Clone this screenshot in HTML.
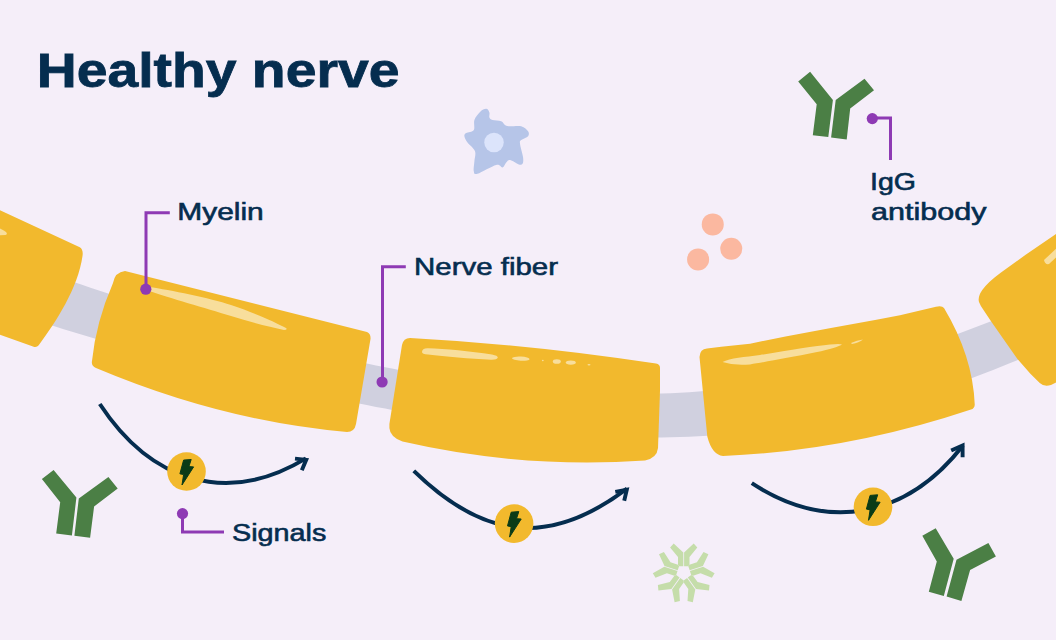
<!DOCTYPE html>
<html><head><meta charset="utf-8"><style>html,body{margin:0;padding:0;background:#F5EEF9;}svg{display:block;}</style></head>
<body><svg width="1056" height="640" viewBox="0 0 1056 640">
<rect width="1056" height="640" fill="#F5EEF9"/>
<path d="M-20.0,246.9 L-10.8,250.7 L-1.6,254.3 L7.6,257.9 L16.8,261.4 L26.1,264.9 L35.3,268.3 L44.5,271.7 L53.7,275.0 L62.9,278.2 L72.1,281.4 L81.3,284.6 L90.5,287.7 L99.7,290.8 L108.9,293.8 L118.2,296.8 L127.4,299.7 L136.6,302.6 L145.8,305.5 L155.0,308.3 L164.2,311.1 L173.4,313.9 L182.6,316.6 L191.8,319.3 L201.0,322.0 L210.3,324.6 L219.5,327.2 L228.7,329.7 L237.9,332.3 L247.1,334.7 L256.3,337.2 L265.5,339.6 L274.7,342.0 L283.9,344.3 L293.1,346.6 L302.4,348.9 L311.6,351.1 L320.8,353.3 L330.0,355.4 L339.2,357.5 L348.4,359.5 L357.6,361.5 L366.8,363.5 L376.0,365.4 L385.2,367.3 L394.5,369.1 L403.7,370.9 L412.9,372.6 L422.1,374.2 L431.3,375.8 L440.5,377.4 L449.7,378.9 L458.9,380.3 L468.1,381.6 L477.3,383.0 L486.6,384.2 L495.8,385.4 L505.0,386.5 L514.2,387.5 L523.4,388.5 L532.6,389.4 L541.8,390.2 L551.0,390.9 L560.2,391.6 L569.4,392.2 L578.7,392.7 L587.9,393.1 L597.1,393.5 L606.3,393.8 L615.5,393.9 L624.7,394.0 L633.9,394.0 L643.1,394.0 L652.3,393.8 L661.5,393.5 L670.8,393.2 L680.0,392.7 L689.2,392.2 L698.4,391.6 L707.6,390.8 L716.8,390.0 L726.0,389.1 L735.2,388.1 L744.4,386.9 L753.6,385.7 L762.9,384.4 L772.1,383.0 L781.3,381.5 L790.5,379.9 L799.7,378.2 L808.9,376.3 L818.1,374.4 L827.3,372.4 L836.5,370.3 L845.7,368.1 L855.0,365.8 L864.2,363.4 L873.4,360.9 L882.6,358.3 L891.8,355.7 L901.0,352.9 L910.2,350.0 L919.4,347.1 L928.6,344.0 L937.8,340.9 L947.1,337.7 L956.3,334.4 L965.5,331.1 L974.7,327.6 L983.9,324.1 L993.1,320.5 L1002.3,316.9 L1011.5,313.1 L1020.7,309.4 L1029.9,305.5 L1039.2,301.6 L1048.4,297.7 L1057.6,293.7 L1066.8,289.7 L1076.0,285.6 L1076.0,334.7 L1066.8,338.8 L1057.6,343.0 L1048.4,347.0 L1039.2,351.0 L1029.9,355.0 L1020.7,358.8 L1011.5,362.6 L1002.3,366.3 L993.1,370.0 L983.9,373.5 L974.7,377.0 L965.5,380.4 L956.3,383.7 L947.1,386.9 L937.8,390.1 L928.6,393.1 L919.4,396.0 L910.2,398.9 L901.0,401.6 L891.8,404.2 L882.6,406.8 L873.4,409.2 L864.2,411.6 L855.0,413.8 L845.7,415.9 L836.5,418.0 L827.3,419.9 L818.1,421.7 L808.9,423.4 L799.7,425.1 L790.5,426.6 L781.3,428.0 L772.1,429.3 L762.9,430.5 L753.6,431.6 L744.4,432.7 L735.2,433.6 L726.0,434.4 L716.8,435.1 L707.6,435.7 L698.4,436.3 L689.2,436.7 L680.0,437.0 L670.8,437.3 L661.5,437.4 L652.3,437.5 L643.1,437.5 L633.9,437.4 L624.7,437.2 L615.5,436.9 L606.3,436.6 L597.1,436.2 L587.9,435.7 L578.7,435.1 L569.4,434.4 L560.2,433.7 L551.0,432.9 L541.8,432.0 L532.6,431.1 L523.4,430.1 L514.2,429.1 L505.0,427.9 L495.8,426.8 L486.6,425.5 L477.3,424.2 L468.1,422.9 L458.9,421.5 L449.7,420.0 L440.5,418.6 L431.3,417.0 L422.1,415.4 L412.9,413.8 L403.7,412.1 L394.5,410.4 L385.2,408.6 L376.0,406.9 L366.8,405.0 L357.6,403.2 L348.4,401.3 L339.2,399.3 L330.0,397.4 L320.8,395.4 L311.6,393.4 L302.4,391.3 L293.1,389.3 L283.9,387.2 L274.7,385.0 L265.5,382.9 L256.3,380.7 L247.1,378.5 L237.9,376.3 L228.7,374.0 L219.5,371.8 L210.3,369.5 L201.0,367.1 L191.8,364.8 L182.6,362.4 L173.4,360.0 L164.2,357.6 L155.0,355.2 L145.8,352.7 L136.6,350.2 L127.4,347.7 L118.2,345.1 L108.9,342.5 L99.7,339.9 L90.5,337.2 L81.3,334.5 L72.1,331.8 L62.9,329.0 L53.7,326.1 L44.5,323.3 L35.3,320.3 L26.1,317.4 L16.8,314.3 L7.6,311.2 L-1.6,308.1 L-10.8,304.8 L-20.0,301.5Z" fill="#D0D0DF"/>
<path d="M-5,208 L79.8,247.2 Q83.5,249.5 82.5,256 C78,288 56,322 38.7,345.2 Q36.5,348 33,346.5 L-5,333 Z" fill="#F2B92D"/>
<path d="M113,283 Q115,272 125,271 L367,332 Q371,334 370.5,339 L356,424 Q354.5,432 347,432 Q221.7,421 96,368 Q91,366 92,361 Q96,322 113,283 Z" fill="#F2B92D"/>
<path d="M389.4,424 L402,345 Q403.5,338 410,338 Q532.5,344.6 656,363.6 Q660,364.5 660,368 L660,391 L658,448 Q657,458 645,460.5 Q522,469 402.5,441.6 Q390,437 389.4,428 Z" fill="#F2B92D"/>
<path d="M699.5,357 Q700,349 707,348.6 L721.25,346.8 L750,343.7 L785.5,336.4 L830.9,328 L876.4,319.7 L900,315.2 L936,306.8 Q942,305.5 944,308 Q972.8,356 974.75,404.7 Q974.5,408.5 971,409.5 Q847,451 723,456 Q712,455 707.3,436.6 L699.5,357 Z" fill="#F2B92D"/>
<path d="M1061,230.5 L1026,254.4 L1001,272.5 Q988,282 982.25,290 Q977.5,297 979,302 Q980.5,306 983.5,310 L991,321.25 L1004.1,340 L1017.25,358.75 L1030.4,373.75 L1039.75,383.1 Q1044,387 1051,385 L1061,380 Z" fill="#F2B92D"/>
<path d="M-5,226.5 Q2,229 6,232 Q8,234.5 5.5,235 L-5,235.5 Z" fill="#F8DE9C"/>
<path d="M149,287 C170,290 210,298 231,305 C255,313 275,322 286,328 Q288,330 284,330 C270,327 250,322 231,316 C205,308 170,298 149,291 Z" fill="#F8DE9C"/>
<path d="M1044,260 L1058,247 L1061,253 L1049,264 Q1045,265 1044,260 Z" fill="#F8DE9C"/>
<path d="M722.5,362 C730,358 745,357 760,355 C790,350 815,346 830,344.5 Q840,343.5 842,344.5 Q838,347.5 815.8,352.3 C790,357.5 765,362 750,364.4 Q735,366 722.5,362 Z" fill="#F8DE9C"/>
<path d="M422,352 Q422,348 428,348.2 C445,348.8 470,351 492,354.6 Q498,355.8 497.8,357.6 Q497,360 491,359.8 C470,359 445,356.5 428,354.6 Q422,354 422,352 Z" fill="#F8DE9C"/>
<path d="M851,343 Q857,340 863,339.5 Q859,342.5 852,344 Z" fill="#F8DE9C"/>
<ellipse cx="520.8" cy="358.7" rx="8.8" ry="2.1" transform="rotate(3 520.8 358.7)" fill="#F8DE9C"/>
<ellipse cx="556.8" cy="361.5" rx="4" ry="2.3" transform="rotate(0 556.8 361.5)" fill="#F8DE9C"/>
<ellipse cx="570.8" cy="362.6" rx="5" ry="2.1" transform="rotate(0 570.8 362.6)" fill="#F8DE9C"/>
<ellipse cx="542.8" cy="360.5" rx="0.9" ry="0.8" transform="rotate(0 542.8 360.5)" fill="#F8DE9C"/>
<ellipse cx="589" cy="364.7" rx="1.5" ry="0.7" transform="rotate(0 589 364.7)" fill="#F8DE9C"/>
<path d="M798.2,81.4 L810.1,71.7 L832.9,100.1 L828.3,137.1 L812.8,135.2 L816.7,104.3Z" fill="#4B7F45"/><path d="M835.7,100.1 L864.5,78.7 L874.0,90.2 L850.2,108.5 L846.7,139.5 L831.1,137.4Z" fill="#4B7F45"/>
<path d="M41.9,479.0 L53.6,470.0 L76.4,497.6 L71.9,535.4 L56.2,533.4 L60.2,502.2Z" fill="#4B7F45"/><path d="M78.8,498.5 L108.4,476.9 L117.7,488.5 L94.1,506.5 L90.1,537.7 L74.4,535.7Z" fill="#4B7F45"/>
<path d="M922.3,535.8 L935.7,528.2 L953.7,558.7 L943.8,595.9 L928.8,591.7 L936.8,561.5Z" fill="#4B7F45"/><path d="M956.5,559.8 L988.4,542.9 L995.9,556.6 L970.1,569.9 L961.4,600.9 L946.6,596.6Z" fill="#4B7F45"/>
<path d="M486.2,108.8 C487.8,108.8 488.9,111.0 489.4,112.5 C489.9,114.0 488.9,116.2 489.4,117.5 C489.9,118.8 490.5,119.4 492.5,120.0 C494.5,120.6 499.2,120.4 501.2,121.2 C503.3,122.1 503.8,124.2 505.0,125.0 C506.2,125.8 506.0,126.0 508.8,126.2 C511.5,126.5 518.0,125.4 521.2,126.2 C524.5,127.1 527.0,129.6 528.1,131.2 C529.2,132.9 529.2,134.8 528.1,136.2 C527.0,137.7 522.6,138.8 521.2,140.0 C519.9,141.2 519.7,140.8 520.0,143.8 C520.3,146.7 522.7,154.2 523.1,157.5 C523.5,160.8 523.2,162.6 522.5,163.8 C521.8,164.9 520.8,165.0 518.8,164.4 C516.7,163.8 512.1,160.3 510.0,160.0 C507.9,159.7 507.5,161.2 506.2,162.5 C505.0,163.8 504.2,167.1 502.5,167.5 C500.8,167.9 500.4,164.0 496.2,165.0 C492.1,166.0 481.2,172.7 477.5,173.8 C473.8,174.8 474.3,173.3 473.8,171.2 C473.2,169.2 474.2,164.6 474.4,161.2 C474.6,157.9 476.1,154.4 475.0,151.2 C473.9,148.1 469.3,145.0 467.5,142.5 C465.7,140.0 464.6,137.8 464.4,136.2 C464.2,134.7 464.7,134.1 466.2,133.1 C467.8,132.1 472.4,132.2 473.8,130.0 C475.1,127.8 473.4,123.0 474.4,120.0 C475.4,117.0 478.0,113.8 480.0,111.9 C482.0,110.0 484.7,108.7 486.2,108.8Z" fill="#B6C5E8"/><circle cx="494" cy="142.5" r="9.75" fill="#DCE4FB"/>
<circle cx="712.75" cy="224.4" r="11" fill="#FBB8A0"/>
<circle cx="731.25" cy="248.75" r="11" fill="#FBB8A0"/>
<circle cx="698.1" cy="259.4" r="11" fill="#FBB8A0"/>
<path d="M683.3,566.3 L679.1,566.3 L678.0,564.8 L678.0,556.9 L670.1,547.5 L673.7,543.5 L683.3,552.4Z" fill="#C5DDAA"/><path d="M684.1,566.3 L688.3,566.3 L689.5,564.8 L689.5,556.9 L697.3,547.5 L693.7,543.5 L684.1,552.4Z" fill="#C5DDAA"/><path d="M689.7,570.3 L688.3,566.3 L689.4,564.8 L696.9,562.3 L703.5,552.0 L708.4,554.2 L702.9,566.0Z" fill="#C5DDAA"/><path d="M689.9,571.1 L691.2,575.1 L693.0,575.7 L700.5,573.3 L711.9,577.8 L714.6,573.2 L703.1,566.8Z" fill="#C5DDAA"/><path d="M687.8,577.6 L691.2,575.1 L693.0,575.7 L697.6,582.1 L709.5,585.1 L709.0,590.4 L696.0,588.9Z" fill="#C5DDAA"/><path d="M687.1,578.1 L683.7,580.6 L683.7,582.5 L688.3,588.9 L687.5,601.1 L692.8,602.2 L695.3,589.4Z" fill="#C5DDAA"/><path d="M680.3,578.1 L683.7,580.6 L683.7,582.5 L679.1,588.9 L679.9,601.1 L674.6,602.2 L672.1,589.4Z" fill="#C5DDAA"/><path d="M679.6,577.6 L676.2,575.1 L674.4,575.7 L669.8,582.1 L657.9,585.1 L658.4,590.4 L671.4,588.9Z" fill="#C5DDAA"/><path d="M677.5,571.1 L676.2,575.1 L674.4,575.7 L666.9,573.3 L655.5,577.8 L652.8,573.2 L664.3,566.8Z" fill="#C5DDAA"/><path d="M677.7,570.3 L679.1,566.3 L678.0,564.8 L670.5,562.3 L663.9,552.0 L659.0,554.2 L664.5,566.0Z" fill="#C5DDAA"/>
<path d="M99.8,404.0 C150.2,480.8 225.7,506.8 306.0,458.4" fill="none" stroke="#052D4F" stroke-width="4" stroke-linecap="butt"/>
<path d="M295,458.6 L306.2,459.8 L301.8,470.2" fill="none" stroke="#052D4F" stroke-width="3.9" stroke-linecap="butt" stroke-linejoin="miter"/>
<path d="M413.8,470.9 C483.0,538.5 548.1,548.2 627.0,488.6" fill="none" stroke="#052D4F" stroke-width="4" stroke-linecap="butt"/>
<path d="M615.3,491.8 L626.8,489.7 L624.2,500.8" fill="none" stroke="#052D4F" stroke-width="3.9" stroke-linecap="butt" stroke-linejoin="miter"/>
<path d="M751.8,483.2 C826.9,532.4 905.9,518.5 963.0,445.5" fill="none" stroke="#052D4F" stroke-width="4" stroke-linecap="butt"/>
<path d="M951.2,450.5 L962.6,445.5 L962.6,457.2" fill="none" stroke="#052D4F" stroke-width="3.9" stroke-linecap="butt" stroke-linejoin="miter"/>
<circle cx="186.5" cy="471.5" r="19.3" fill="#F2B92D"/>
<path d="M183.6,460.1 L191.2,459.5 L188.9,466.6 L193.6,466.9 L182.0,485.0 L183.6,474.6 L179.9,473.8Z" fill="#0A3B17" stroke="#0A3B17" stroke-width="1" stroke-linejoin="round"/>
<circle cx="514.1" cy="523.6" r="19.3" fill="#F2B92D"/>
<path d="M511.2,512.2 L518.8,511.6 L516.5,518.7 L521.2,519.0 L509.6,537.1 L511.2,526.7 L507.5,525.9Z" fill="#0A3B17" stroke="#0A3B17" stroke-width="1" stroke-linejoin="round"/>
<circle cx="873" cy="506.8" r="19.3" fill="#F2B92D"/>
<path d="M870.1,495.4 L877.7,494.8 L875.4,501.9 L880.1,502.2 L868.5,520.3 L870.1,509.9 L866.4,509.1Z" fill="#0A3B17" stroke="#0A3B17" stroke-width="1" stroke-linejoin="round"/>
<path d="M169.8,212.8 L146,212.8 L146,289" fill="none" stroke="#8E3AB4" stroke-width="3"/><circle cx="145.8" cy="289.2" r="5.6" fill="#8E3AB4"/>
<path d="M405.8,266.8 L382.5,266.8 L382.5,382" fill="none" stroke="#8E3AB4" stroke-width="3"/><circle cx="382.1" cy="382" r="5.6" fill="#8E3AB4"/>
<path d="M872.3,118 L890.5,118 L890.5,160" fill="none" stroke="#8E3AB4" stroke-width="3"/><circle cx="872.3" cy="118.6" r="5.6" fill="#8E3AB4"/>
<path d="M182.5,513.6 L182.5,531.9 L224,531.9" fill="none" stroke="#8E3AB4" stroke-width="3"/><circle cx="182.5" cy="513.6" r="5.6" fill="#8E3AB4"/>
<text x="36.8" y="87" font-size="48.4" textLength="362.6" font-family="Liberation Sans, sans-serif" font-weight="bold" fill="#052D4F" stroke="#052D4F" stroke-width="0.8" lengthAdjust="spacingAndGlyphs">Healthy nerve</text>
<text x="177.25" y="219.9" font-size="24.2" textLength="86.5" font-family="Liberation Sans, sans-serif" fill="#052D4F" stroke="#052D4F" stroke-width="0.6" lengthAdjust="spacingAndGlyphs">Myelin</text>
<text x="414" y="275" font-size="24.2" textLength="144" font-family="Liberation Sans, sans-serif" fill="#052D4F" stroke="#052D4F" stroke-width="0.6" lengthAdjust="spacingAndGlyphs">Nerve fiber</text>
<text x="870" y="190.2" font-size="24.2" textLength="46" font-family="Liberation Sans, sans-serif" fill="#052D4F" stroke="#052D4F" stroke-width="0.6" lengthAdjust="spacingAndGlyphs">IgG</text>
<text x="871" y="220.3" font-size="24.2" textLength="115.4" font-family="Liberation Sans, sans-serif" fill="#052D4F" stroke="#052D4F" stroke-width="0.6" lengthAdjust="spacingAndGlyphs">antibody</text>
<text x="232" y="540.9" font-size="24.2" textLength="94.4" font-family="Liberation Sans, sans-serif" fill="#052D4F" stroke="#052D4F" stroke-width="0.6" lengthAdjust="spacingAndGlyphs">Signals</text>
</svg></body></html>
